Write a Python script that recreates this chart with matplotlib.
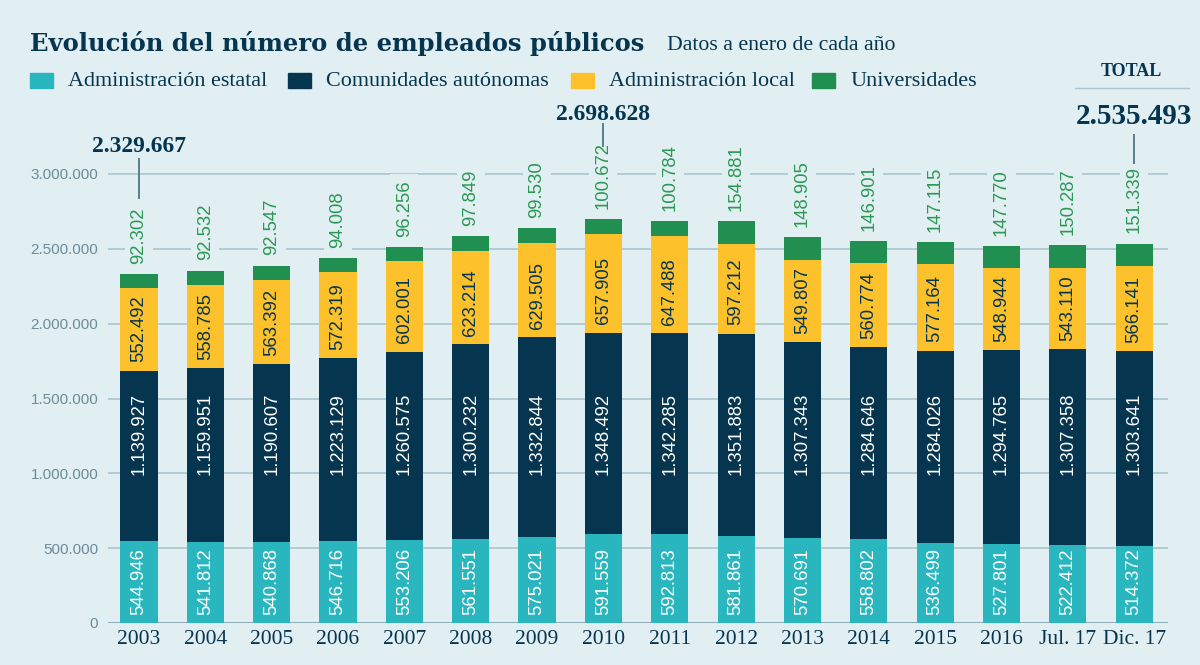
import matplotlib.pyplot as plt
from matplotlib.patches import Rectangle

periodos = ["2003", "2004", "2005", "2006", "2007", "2008", "2009", "2010",
            "2011", "2012", "2013", "2014", "2015", "2016", "Jul. 17", "Dic. 17"]
estatal = [544946, 541812, 540868, 546716, 553206, 561551, 575021, 591559,
           592813, 581861, 570691, 558802, 536499, 527801, 522412, 514372]
autonomas = [1139927, 1159951, 1190607, 1223129, 1260575, 1300232, 1332844, 1348492,
             1342285, 1351883, 1307343, 1284646, 1284026, 1294765, 1307358, 1303641]
local = [552492, 558785, 563392, 572319, 602001, 623214, 629505, 657905,
         647488, 597212, 549807, 560774, 577164, 548944, 543110, 566141]
universidades = [92302, 92532, 92547, 94008, 96256, 97849, 99530, 100672,
                 100784, 154881, 148905, 146901, 147115, 147770, 150287, 151339]
series = ["Administración estatal", "Comunidades autónomas",
          "Administración local", "Universidades"]

BG = "#e2eff2"
NAVY = "#05354f"
CYAN = "#2ab6bf"
YELLOW = "#fcc12b"
GREEN = "#218f4f"
GREEN_TXT = "#2a9854"
GRID = "#aac5cd"
TICK = "#6c8c9a"
SERIF = "Liberation Serif"
SANS = "Liberation Sans"


def fmt(v):
    return f"{v:,}".replace(",", ".")


W, H = 1200, 665
fig = plt.figure(figsize=(12, 6.65), dpi=100, facecolor=BG)
ax = fig.add_axes([108 / W, 1 - 623 / H, (1168 - 108) / W, (623 - 40) / H])
ax.set_facecolor(BG)
ymax = (623 - 40) / 449 * 3e6
ax.set_ylim(0, ymax)
ax.set_xlim(-0.467, len(periodos) - 1 + 0.51)

x = list(range(len(periodos)))
w = 0.56
b1 = estatal
b2 = [a + b for a, b in zip(estatal, autonomas)]
b3 = [a + b for a, b in zip(b2, local)]
totales = [a + b for a, b in zip(b3, universidades)]

ax.bar(x, estatal, w, color=CYAN, zorder=3)
ax.bar(x, autonomas, w, bottom=b1, color=NAVY, zorder=3)
ax.bar(x, local, w, bottom=b2, color=YELLOW, zorder=3)
ax.bar(x, universidades, w, bottom=b3, color=GREEN, zorder=3)

# etiquetas dentro de las barras
for i in x:
    ax.annotate(fmt(estatal[i]), (i, 0), xytext=(0, 6), textcoords="offset points",
                rotation=90, ha="center", va="bottom", color="white",
                fontsize=13.3, family=SANS, zorder=4)
    ax.annotate(fmt(autonomas[i]), (i, 990000), rotation=90, ha="center", va="bottom",
                color="white", fontsize=13.3, family=SANS, zorder=4)
    ax.annotate(fmt(local[i]), (i, b2[i]), xytext=(0, 6), textcoords="offset points",
                rotation=90, ha="center", va="bottom", color=NAVY,
                fontsize=13.3, family=SANS, zorder=4)
    ax.annotate(fmt(universidades[i]), (i, totales[i]), xytext=(0, 7.5),
                textcoords="offset points", rotation=90, ha="center", va="bottom",
                color=GREEN_TXT, fontsize=13.3, family=SANS, zorder=4,
                bbox=dict(boxstyle="square,pad=0.3", fc=BG, ec="none"))

# totales destacados
def px2v(p):
    return (623 - p) / 449 * 3e6


imax = totales.index(max(totales))
destacados = [(0, 147, 159, 198, 17), (imax, 115, 124, 146, 17),
              (len(x) - 1, 117, 135, 163, 21)]
for i, ty, l0, l1, fs in destacados:
    ax.text(i, px2v(ty), fmt(totales[i]), ha="center", va="center", color=NAVY,
            fontsize=fs, fontweight="bold", family=SERIF, clip_on=False)
    ax.plot([i, i], [px2v(l0), px2v(l1)], color="#5b7d8d", lw=1.4,
            clip_on=False, zorder=5)

fig.text(1131 / W, 1 - 71 / H, "TOTAL", ha="center", va="center", color=NAVY,
         fontsize=13, fontweight="bold", family=SERIF)
fig.add_artist(plt.Line2D([1075 / W, 1189 / W], [1 - 88 / H] * 2, color=GRID, lw=1))

# ejes
ax.set_yticks([0, 500000, 1000000, 1500000, 2000000, 2500000, 3000000])
ax.set_yticklabels([fmt(v) for v in ax.get_yticks().astype(int)])
ax.yaxis.grid(True, color=GRID, lw=1.2, zorder=0)
ax.axhline(0, color="#8fb0ba", lw=1.5, zorder=2)
ax.set_xticks(x)
ax.set_xticklabels(periodos)
for s in ax.spines.values():
    s.set_visible(False)
ax.tick_params(axis="y", length=0, pad=7, labelsize=11, labelcolor=TICK)
ax.tick_params(axis="x", length=0, pad=5, labelsize=15.5, labelcolor=NAVY)
for t in ax.get_yticklabels():
    t.set_family(SANS)
for t in ax.get_xticklabels():
    t.set_family(SERIF)

# título y leyenda
fig.text(30 / W, 1 - 43 / H, "Evolución del número de empleados públicos",
         ha="left", va="center", color=NAVY, fontsize=17.5, fontweight="bold",
         family="DejaVu Serif")
fig.text(667 / W, 1 - 45 / H, "Datos a enero de cada año", ha="left", va="center",
         color=NAVY, fontsize=15.7, family=SERIF)

colores = [CYAN, NAVY, YELLOW, GREEN]
legend_x = [30, 288, 571, 812]
for nombre, c, lx in zip(series, colores, legend_x):
    fig.add_artist(Rectangle((lx / W, 1 - 88 / H), 23 / W, 15 / H, color=c,
                             transform=fig.transFigure))
    fig.text((lx + 38) / W, 1 - 81 / H, nombre, ha="left", va="center",
             color=NAVY, fontsize=15.9, family=SERIF)

fig.savefig("out.png", dpi=100, facecolor=BG)
